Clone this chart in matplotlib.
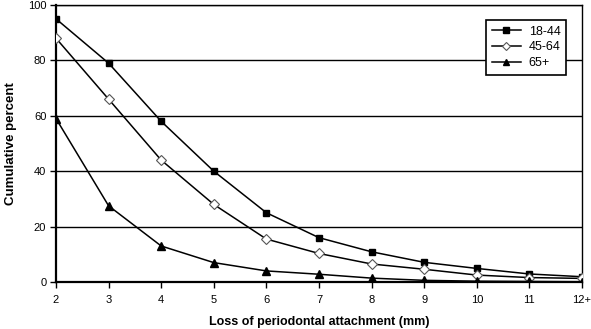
import matplotlib
matplotlib.use("Agg")
import matplotlib.pyplot as plt

plt.rcParams['font.family'] = ['Liberation Sans', 'DejaVu Sans']

# data
categories = ['2', '3', '4', '5', '6', '7', '8', '9', '10', '11', '12+']
age_18_44 = [95, 79, 58, 40, 25, 16, 10.9, 7.1, 4.9, 2.9, 1.9]
age_45_64 = [88, 66, 44, 28, 15.5, 10.3, 6.5, 4.6, 2.5, 1.6, 1.3]
age_65 = [59, 27.5, 13, 7, 4, 2.8, 1.4, 0.6, 0.3, 0.2, 0.1]

x = list(range(len(categories)))

fig = plt.figure(figsize=(5.91, 3.29), dpi=100)
ax = fig.add_axes([56 / 591, 1 - 282 / 329, (582 - 56) / 591, (282 - 5) / 329])

ax.plot(x, age_18_44, color='black', lw=1.1, marker='s', ms=5,
        mfc='black', mec='black', label='18-44', zorder=3)
ax.plot(x, age_45_64, color='black', lw=1.1, marker='D', ms=5,
        mfc='white', mec='#555555', mew=0.8, label='45-64', zorder=3)
ax.plot(x, age_65, color='black', lw=1.1, marker='^', ms=5.5,
        mfc='black', mec='black', label='65+', zorder=3)

ax.set_xlim(0, len(categories) - 1)
ax.set_ylim(0, 100)
ax.set_xticks(x)
ax.set_xticklabels(categories)
ax.set_yticks([0, 20, 40, 60, 80, 100])
ax.yaxis.grid(True, color='black', lw=1.0)
ax.set_axisbelow(True)
ax.tick_params(direction='out', length=4, width=1, labelsize=8)
ax.tick_params(axis='x', pad=5.5)
ax.tick_params(axis='y', pad=3)

for s in ax.spines.values():
    s.set_linewidth(1.0)
ax.spines['left'].set_linewidth(1.6)
ax.spines['bottom'].set_linewidth(1.6)

ax.set_xlabel('Loss of periodontal attachment (mm)', fontsize=9,
              fontweight='bold', labelpad=8)
ax.set_ylabel('Cumulative percent', fontsize=9.5, fontweight='bold',
              labelpad=8)

leg = ax.legend(loc='upper right', bbox_to_anchor=(0.97, 0.946),
                borderaxespad=0, fontsize=9, frameon=True, fancybox=False,
                framealpha=1, edgecolor='black', borderpad=0.45,
                handlelength=2.3, handletextpad=0.65, labelspacing=0.3,
                markerscale=0.8)
leg.get_frame().set_linewidth(1.2)

fig.savefig('out.png', dpi=100)
